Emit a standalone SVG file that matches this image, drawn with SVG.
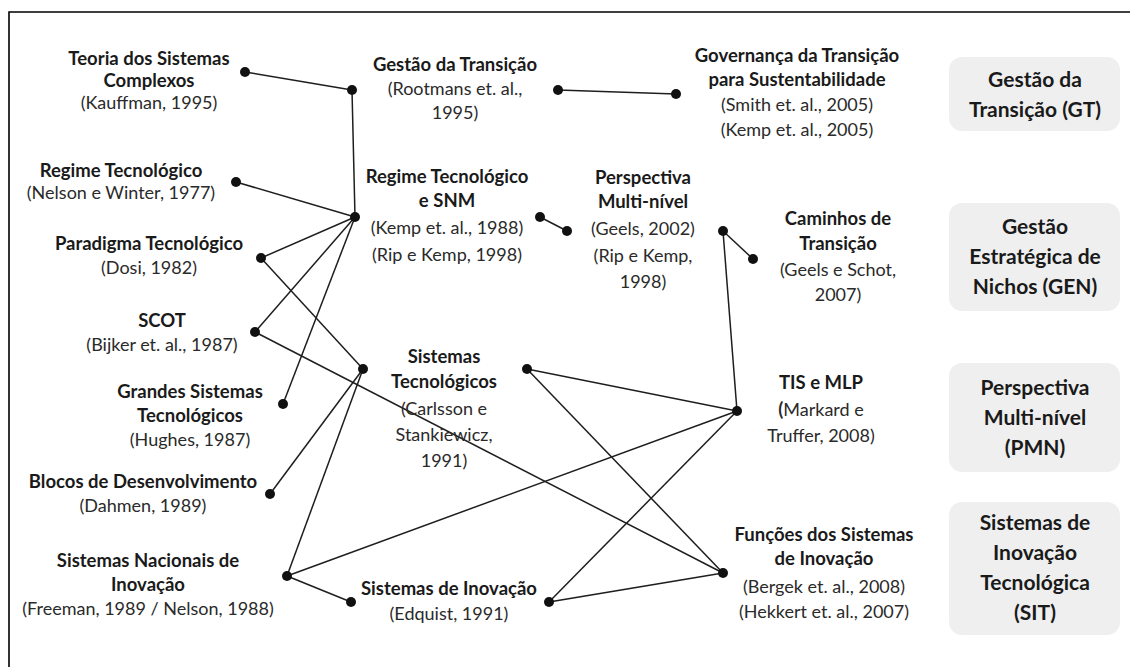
<svg xmlns="http://www.w3.org/2000/svg" width="1130" height="667" viewBox="0 0 1130 667">
  <style>
    .t { font-family: Lato, "Liberation Sans", sans-serif; font-size: 18px; fill: #1a1a1a; text-anchor: middle; }
    .b { font-weight: bold; font-size: 18.5px; }
    .c { fill: #2a2a2a; }
    .cat { font-family: Lato, "Liberation Sans", sans-serif; font-size: 21px; font-weight: bold; fill: #1a1a1a; text-anchor: middle; }
    .box { fill: #efefef; }
    .edge { stroke: #1e1e1e; stroke-width: 1.5; fill: none; }
    .dot { fill: #111; }
  </style>

  <rect width="1130" height="667" fill="#ffffff"/>
  <!-- frame (top and left edges) -->
  <path d="M9 667 V12 H1130" fill="none" stroke="#000" stroke-width="1.6"/>

  <!-- connectors -->
  <g id="connectors" class="edge">
    <line x1="245" y1="72" x2="352" y2="90"/>
    <line x1="352" y1="90" x2="355" y2="217"/>
    <line x1="236" y1="182" x2="355" y2="217"/>
    <line x1="261" y1="258" x2="355" y2="217"/>
    <line x1="255" y1="332" x2="355" y2="217"/>
    <line x1="283" y1="404" x2="355" y2="217"/>
    <line x1="261" y1="258" x2="363" y2="369"/>
    <line x1="363" y1="369" x2="270" y2="494"/>
    <line x1="363" y1="369" x2="287" y2="576"/>
    <line x1="255" y1="332" x2="723" y2="573"/>
    <line x1="287" y1="576" x2="737" y2="411"/>
    <line x1="287" y1="576" x2="351" y2="602"/>
    <line x1="527" y1="369" x2="737" y2="411"/>
    <line x1="527" y1="369" x2="723" y2="573"/>
    <line x1="549" y1="602" x2="737" y2="411"/>
    <line x1="549" y1="602" x2="723" y2="573"/>
    <line x1="723" y1="231" x2="737" y2="411"/>
    <line x1="723" y1="231" x2="753" y2="259"/>
    <line x1="540" y1="217" x2="567" y2="231"/>
    <line x1="558" y1="90" x2="676" y2="94"/>
  </g>

  <!-- endpoint dots -->
  <g id="dots" class="dot">
    <circle cx="245" cy="72" r="5"/>
    <circle cx="352" cy="90" r="5"/>
    <circle cx="236" cy="182" r="5"/>
    <circle cx="355" cy="217" r="5"/>
    <circle cx="261" cy="258" r="5"/>
    <circle cx="255" cy="332" r="5"/>
    <circle cx="363" cy="369" r="5"/>
    <circle cx="283" cy="404" r="5"/>
    <circle cx="270" cy="494" r="5"/>
    <circle cx="287" cy="576" r="5"/>
    <circle cx="351" cy="602" r="5"/>
    <circle cx="558" cy="90" r="5"/>
    <circle cx="676" cy="94" r="5"/>
    <circle cx="540" cy="217" r="5"/>
    <circle cx="567" cy="231" r="5"/>
    <circle cx="723" cy="231" r="5"/>
    <circle cx="753" cy="259" r="5"/>
    <circle cx="527" cy="369" r="5"/>
    <circle cx="737" cy="411" r="5"/>
    <circle cx="549" cy="602" r="5"/>
    <circle cx="723" cy="573" r="5"/>
  </g>

  <!-- theory nodes -->
  <g id="teoria-sistemas-complexos" class="t">
    <text x="149" y="65" class="b">Teoria dos Sistemas</text>
    <text x="149" y="87" class="b">Complexos</text>
    <text x="149" y="109" class="c">(Kauffman, 1995)</text>
  </g>
  <g id="regime-tecnologico" class="t">
    <text x="121" y="177" class="b">Regime Tecnológico</text>
    <text x="121" y="199" class="c">(Nelson e Winter, 1977)</text>
  </g>
  <g id="paradigma-tecnologico" class="t">
    <text x="149" y="250" class="b">Paradigma Tecnológico</text>
    <text x="149" y="274" class="c">(Dosi, 1982)</text>
  </g>
  <g id="scot" class="t">
    <text x="162" y="327" class="b">SCOT</text>
    <text x="162" y="351" class="c">(Bijker et. al., 1987)</text>
  </g>
  <g id="grandes-sistemas" class="t">
    <text x="190" y="398" class="b">Grandes Sistemas</text>
    <text x="190" y="422" class="b">Tecnológicos</text>
    <text x="190" y="446" class="c">(Hughes, 1987)</text>
  </g>
  <g id="blocos-desenvolvimento" class="t">
    <text x="143" y="488" class="b">Blocos de Desenvolvimento</text>
    <text x="143" y="512" class="c">(Dahmen, 1989)</text>
  </g>
  <g id="sistemas-nacionais" class="t">
    <text x="148" y="567" class="b">Sistemas Nacionais de</text>
    <text x="148" y="591" class="b">Inovação</text>
    <text x="148" y="615" class="c">(Freeman, 1989 / Nelson, 1988)</text>
  </g>
  <g id="gestao-transicao" class="t">
    <text x="455" y="71" class="b">Gestão da Transição</text>
    <text x="455" y="95" class="c">(Rootmans et. al.,</text>
    <text x="455" y="119" class="c">1995)</text>
  </g>
  <g id="governanca-transicao" class="t">
    <text x="797" y="62" class="b">Governança da Transição</text>
    <text x="797" y="86" class="b">para Sustentabilidade</text>
    <text x="797" y="111" class="c">(Smith et. al., 2005)</text>
    <text x="797" y="136" class="c">(Kemp et. al., 2005)</text>
  </g>
  <g id="regime-snm" class="t">
    <text x="447" y="183" class="b">Regime Tecnológico</text>
    <text x="447" y="207" class="b">e SNM</text>
    <text x="447" y="234" class="c">(Kemp et. al., 1988)</text>
    <text x="447" y="261" class="c">(Rip e Kemp, 1998)</text>
  </g>
  <g id="perspectiva-multinivel" class="t">
    <text x="643" y="184" class="b">Perspectiva</text>
    <text x="643" y="208" class="b">Multi-nível</text>
    <text x="643" y="235" class="c">(Geels, 2002)</text>
    <text x="643" y="262" class="c">(Rip e Kemp,</text>
    <text x="643" y="288" class="c">1998)</text>
  </g>
  <g id="caminhos-transicao" class="t">
    <text x="838" y="225" class="b">Caminhos de</text>
    <text x="838" y="250" class="b">Transição</text>
    <text x="838" y="276" class="c">(Geels e Schot,</text>
    <text x="838" y="301" class="c">2007)</text>
  </g>
  <g id="sistemas-tecnologicos" class="t">
    <text x="444" y="363" class="b">Sistemas</text>
    <text x="444" y="388" class="b">Tecnológicos</text>
    <text x="444" y="415" class="c">(Carlsson e</text>
    <text x="444" y="441" class="c">Stankiewicz,</text>
    <text x="444" y="467" class="c">1991)</text>
  </g>
  <g id="tis-mlp" class="t">
    <text x="821" y="389" class="b">TIS e MLP</text>
    <text x="821" y="416" class="c"><tspan class="b">(</tspan>Markard e</text>
    <text x="821" y="442" class="c">Truffer, 2008)</text>
  </g>
  <g id="funcoes-sistemas" class="t">
    <text x="824" y="541" class="b">Funções dos Sistemas</text>
    <text x="824" y="565" class="b">de Inovação</text>
    <text x="824" y="593" class="c">(Bergek et. al., 2008)</text>
    <text x="824" y="618" class="c">(Hekkert et. al., 2007)</text>
  </g>
  <g id="sistemas-inovacao" class="t">
    <text x="449" y="595" class="b">Sistemas de Inovação</text>
    <text x="449" y="620" class="c">(Edquist, 1991)</text>
  </g>

  <!-- category boxes -->
  <g id="cat-gt">
    <rect class="box" x="949" y="57" width="171" height="74" rx="13"/>
    <text class="cat" x="1035" y="87">Gestão da</text>
    <text class="cat" x="1035" y="117">Transição (GT)</text>
  </g>
  <g id="cat-gen">
    <rect class="box" x="949" y="203" width="171" height="108" rx="13"/>
    <text class="cat" x="1035" y="234">Gestão</text>
    <text class="cat" x="1035" y="264">Estratégica de</text>
    <text class="cat" x="1035" y="294">Nichos (GEN)</text>
  </g>
  <g id="cat-pmn">
    <rect class="box" x="949" y="363" width="171" height="109" rx="13"/>
    <text class="cat" x="1035" y="395">Perspectiva</text>
    <text class="cat" x="1035" y="425">Multi-nível</text>
    <text class="cat" x="1035" y="455">(PMN)</text>
  </g>
  <g id="cat-sit">
    <rect class="box" x="949" y="502" width="171" height="133" rx="13"/>
    <text class="cat" x="1035" y="530">Sistemas de</text>
    <text class="cat" x="1035" y="560">Inovação</text>
    <text class="cat" x="1035" y="590">Tecnológica</text>
    <text class="cat" x="1035" y="620">(SIT)</text>
  </g>
</svg>
